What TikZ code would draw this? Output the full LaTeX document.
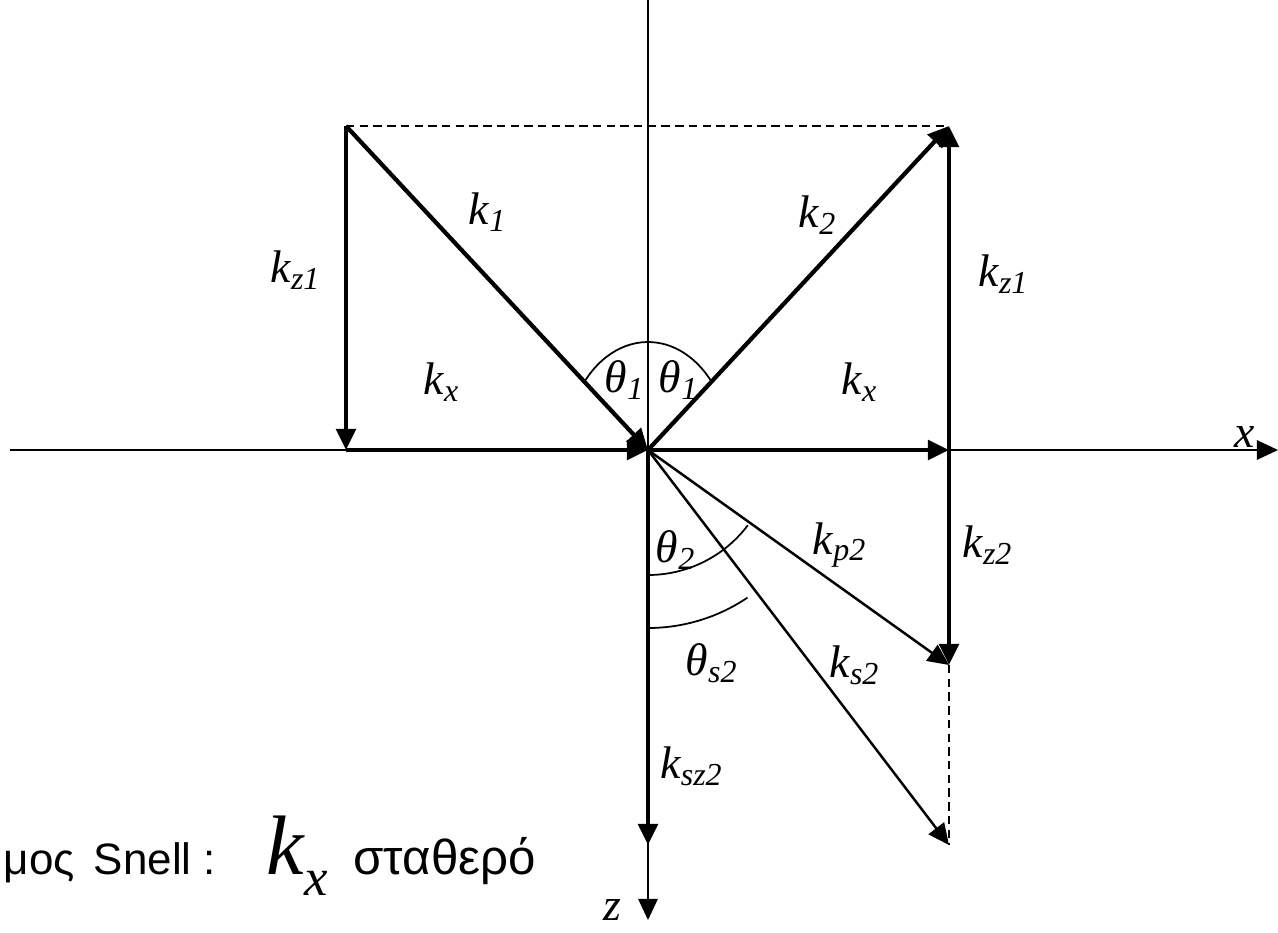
\documentclass[tikz,border=0pt]{standalone}
\usepackage{fontspec}
\setmainfont{Liberation Serif}
\newfontfamily\lawfont{Liberation Sans}
\usetikzlibrary{arrows.meta, positioning}

\tikzset{
  head/.style={-{Triangle[length=6pt, width=5.5pt]}},
  vec/.style={line width=1.2pt, head},
  ray/.style={line width=0.7pt, head},
  axis/.style={line width=0.6pt},
  guide/.style={line width=0.7pt, dash pattern=on 2.4pt off 1.5pt},
  angarc/.style={line width=0.5pt},
  lbl/.style={inner sep=0pt, font=\fontsize{13}{15}\selectfont\itshape},
  lawtext/.style={inner sep=0pt, font=\lawfont\fontsize{12.5}{14}\selectfont}
}

\begin{document}
\begin{tikzpicture}[x=0.01cm, y=-0.01cm]
  \useasboundingbox (0,0) rectangle (1278,933);
  % points (pixel grid, y downwards)
  \coordinate (O)  at (648,450);
  \coordinate (A)  at (346,126);
  \coordinate (B)  at (949,126);
  \coordinate (C)  at (346,450);
  \coordinate (D)  at (949,450);
  \coordinate (E)  at (949,665);
  \coordinate (F)  at (949,845);
  \coordinate (G)  at (648,845);
  \coordinate (xl) at (10,450);
  \coordinate (xr) at (1278,450);
  \coordinate (zt) at (648,0);
  \coordinate (zb) at (648,920);
  % axes
  \draw[axis, head] (xl) -- (xr);
  \draw[axis, head] (zt) -- (zb);
  % dashed guides
  \draw[guide] (A) -- (B);
  \draw[guide] (E) -- (F);
  % incident side
  \draw[vec] (A) -- (C);
  \draw[vec] (C) -- (O);
  \draw[vec] (A) -- (O);
  % reflected side
  \draw[vec] (O) -- (B);
  \draw[vec] (O) -- (D);
  \draw[vec] (D) -- (B);
  \draw[vec] (D) -- (E);
  % transmitted side
  \draw[ray] (O) -- (E);
  \draw[ray] (O) -- (F);
  \draw[vec] (O) -- (G);
  % angle arcs
  \draw[angarc] (O) ++(220.5:82 and 108)
    arc[start angle=220.5, end angle=319.5, x radius=82, y radius=108];
  \draw[angarc] (O) ++(90:125) arc[start angle=90, end angle=37, radius=125];
  \draw[angarc] (O) ++(90:178) arc[start angle=90, end angle=56, radius=178];
  % vector labels
  \node[lbl] (k1)   at (488,212) {k\textsubscript{1}};
  \node[lbl] (k2)   at (818,215) {k\textsubscript{2}};
  \node[lbl] (kz1l) at (296,270) {k\textsubscript{z1}};
  \node[lbl] (kz1r) at (1004,274) {k\textsubscript{z1}};
  \node[lbl] (kxl)  at (442,382) {k\textsubscript{x}};
  \node[lbl] (kxr)  at (860,382) {k\textsubscript{x}};
  \node[lbl] (kp2)  at (840,545) {k\textsubscript{p2}};
  \node[lbl] (kz2)  at (988,545) {k\textsubscript{z2}};
  \node[lbl] (ks2)  at (855,665) {k\textsubscript{s2}};
  \node[lbl] (ksz2) at (692,766) {k\textsubscript{sz2}};
  % angle labels
  \node[lbl] (th1l) at (625,380) {θ\textsubscript{1}};
  \node[lbl] (th1r) at (679,380) {θ\textsubscript{1}};
  \node[lbl] (th2)  at (676,550) {θ\textsubscript{2}};
  \node[lbl] (ths2) at (712,663) {θ\textsubscript{s2}};
  % axis labels
  \node[lbl] (xlab) at (1245,437) {x};
  \node[lbl] (zlab) at (612,910) {z};
  % Snell's law
  \node[lawtext, anchor=base west] (law) at (3,874) {μος\hspace{2pt} Snell :};
  \node[inner sep=0pt, font=\fontsize{24}{27}\selectfont\itshape, base right=14pt of law]
    (kbig) {k\raisebox{-6pt}{\fontsize{15}{17}\selectfont x}};
  \node[lawtext, font=\lawfont\fontsize{14}{16}\selectfont, base right=7pt of kbig]
    (const) {σταθερό};
\end{tikzpicture}
\end{document}
